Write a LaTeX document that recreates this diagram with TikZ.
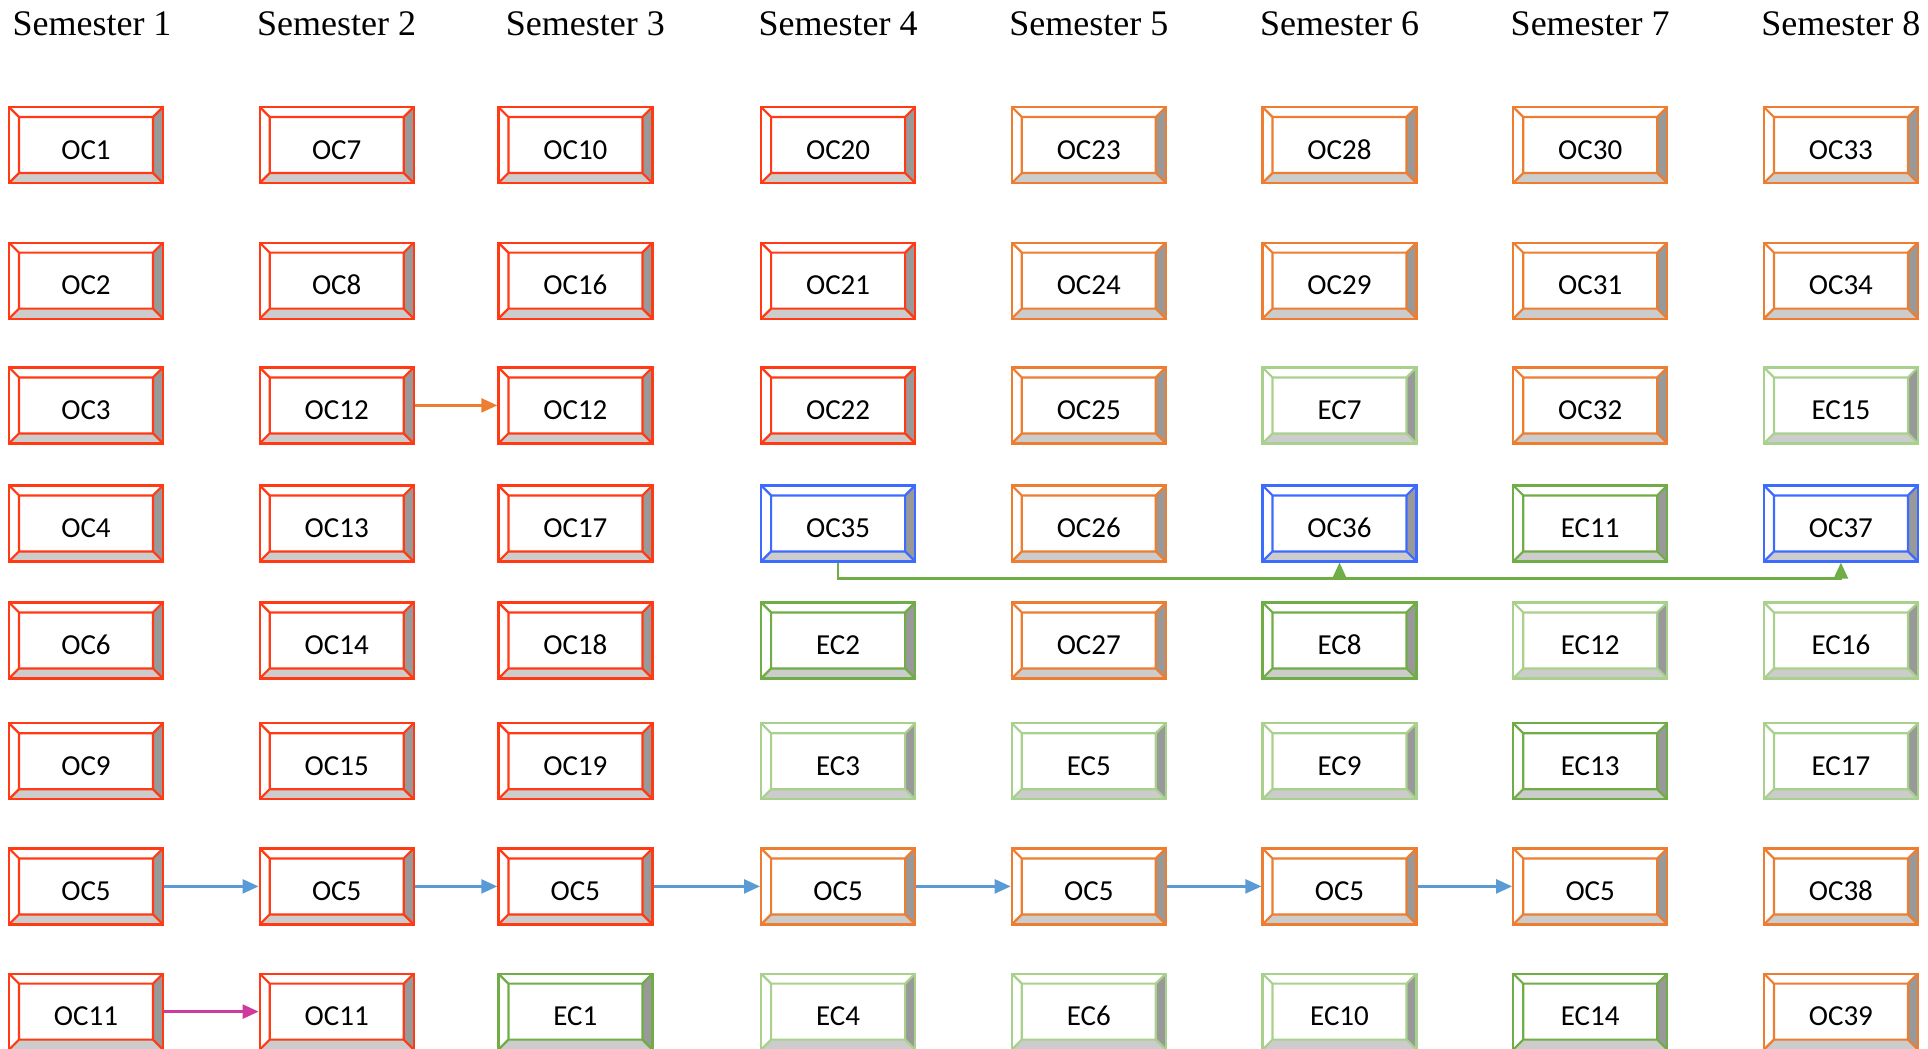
\documentclass[tikz,border=0pt]{standalone}
\usepackage{fontspec}
\setmainfont{Liberation Serif}
\newfontfamily\coursefont{Carlito}
\usetikzlibrary{arrows.meta}

\definecolor{ocred}{HTML}{FF3A14}
\definecolor{ocorange}{HTML}{ED7D31}
\definecolor{ocblue}{HTML}{3D6BFF}
\definecolor{ecgreen}{HTML}{70AD47}
\definecolor{eclight}{HTML}{A9D18E}
\definecolor{arrowblue}{HTML}{5B9BD5}
\definecolor{arrowpink}{HTML}{CF3A9E}

\begin{document}
\begin{tikzpicture}[x=0.5pt,y=-0.5pt,>={Triangle[length=8pt,width=7pt]},node distance=125.35pt,
                    course node/.style={rectangle,draw=#1,line width=1.1pt,minimum width=77pt,minimum height=38pt,
                      inner sep=0pt,text height=14.3pt,text depth=0pt,font=\coursefont\fontsize{14.5}{17}\selectfont,
                      path picture={
                        \path (path picture bounding box.north east) coordinate (ne)
                              (path picture bounding box.south east) coordinate (se)
                              (path picture bounding box.south west) coordinate (sw)
                              (path picture bounding box.north west) coordinate (nw);
                        \fill[black!40] (ne) -- (se) -- ([shift={(-5pt,5pt)}]se) -- ([shift={(-5pt,-5pt)}]ne) -- cycle;
                        \fill[black!20] (sw) -- (se) -- ([shift={(-5pt,5pt)}]se) -- ([shift={(5pt,5pt)}]sw) -- cycle;
                        \draw[#1,line width=1.1pt] ([shift={(5pt,5pt)}]sw) rectangle ([shift={(-5pt,-5pt)}]ne)
                          (nw) -- ([shift={(5pt,-5pt)}]nw) (ne) -- ([shift={(-5pt,-5pt)}]ne)
                          (se) -- ([shift={(-5pt,5pt)}]se) (sw) -- ([shift={(5pt,5pt)}]sw);
                      }},
                    red node/.style={course node=ocred},
                    orange node/.style={course node=ocorange},
                    blue node/.style={course node=ocblue},
                    green node/.style={course node=ecgreen},
                    light node/.style={course node=eclight},
                    to third/.style={node distance=119.35pt},
                    to fourth/.style={node distance=131.35pt},
                    semester/.style={font=\fontsize{18}{22}\selectfont,inner sep=0pt},
                    flow/.style={->,line width=1.2pt}]
  \clip (0,0) rectangle (1928,1049);

  \node[red node] (oc1) at (86,145) {OC1};
  \node[red node] (oc7) [right of=oc1] {OC7};
  \node[red node] (oc10) [right of=oc7,to third] {OC10};
  \node[red node] (oc20) [right of=oc10,to fourth] {OC20};
  \node[orange node] (oc23) [right of=oc20] {OC23};
  \node[orange node] (oc28) [right of=oc23] {OC28};
  \node[orange node] (oc30) [right of=oc28] {OC30};
  \node[orange node] (oc33) [right of=oc30] {OC33};

  \node[red node] (oc2) [below of=oc1,node distance=67.8pt] {OC2};
  \node[red node] (oc8) [right of=oc2] {OC8};
  \node[red node] (oc16) [right of=oc8,to third] {OC16};
  \node[red node] (oc21) [right of=oc16,to fourth] {OC21};
  \node[orange node] (oc24) [right of=oc21] {OC24};
  \node[orange node] (oc29) [right of=oc24] {OC29};
  \node[orange node] (oc31) [right of=oc29] {OC31};
  \node[orange node] (oc34) [right of=oc31] {OC34};

  \node[red node] (oc3) [below of=oc2,node distance=62.4pt] {OC3};
  \node[red node] (oc12a) [right of=oc3] {OC12};
  \node[red node] (oc12b) [right of=oc12a,to third] {OC12};
  \node[red node] (oc22) [right of=oc12b,to fourth] {OC22};
  \node[orange node] (oc25) [right of=oc22] {OC25};
  \node[light node] (ec7) [right of=oc25] {EC7};
  \node[orange node] (oc32) [right of=ec7] {OC32};
  \node[light node] (ec15) [right of=oc32] {EC15};

  \node[red node] (oc4) [below of=oc3,node distance=59pt] {OC4};
  \node[red node] (oc13) [right of=oc4] {OC13};
  \node[red node] (oc17) [right of=oc13,to third] {OC17};
  \node[blue node] (oc35) [right of=oc17,to fourth] {OC35};
  \node[orange node] (oc26) [right of=oc35] {OC26};
  \node[blue node] (oc36) [right of=oc26] {OC36};
  \node[green node] (ec11) [right of=oc36] {EC11};
  \node[blue node] (oc37) [right of=ec11] {OC37};

  \node[red node] (oc6) [below of=oc4,node distance=58.5pt] {OC6};
  \node[red node] (oc14) [right of=oc6] {OC14};
  \node[red node] (oc18) [right of=oc14,to third] {OC18};
  \node[green node] (ec2) [right of=oc18,to fourth] {EC2};
  \node[orange node] (oc27) [right of=ec2] {OC27};
  \node[green node] (ec8) [right of=oc27] {EC8};
  \node[light node] (ec12) [right of=ec8] {EC12};
  \node[light node] (ec16) [right of=ec12] {EC16};

  \node[red node] (oc9) [below of=oc6,node distance=60.4pt] {OC9};
  \node[red node] (oc15) [right of=oc9] {OC15};
  \node[red node] (oc19) [right of=oc15,to third] {OC19};
  \node[light node] (ec3) [right of=oc19,to fourth] {EC3};
  \node[light node] (ec5) [right of=ec3] {EC5};
  \node[light node] (ec9) [right of=ec5] {EC9};
  \node[green node] (ec13) [right of=ec9] {EC13};
  \node[light node] (ec17) [right of=ec13] {EC17};

  \node[red node] (oc5a) [below of=oc9,node distance=62.6pt] {OC5};
  \node[red node] (oc5b) [right of=oc5a] {OC5};
  \node[red node] (oc5c) [right of=oc5b,to third] {OC5};
  \node[orange node] (oc5d) [right of=oc5c,to fourth] {OC5};
  \node[orange node] (oc5e) [right of=oc5d] {OC5};
  \node[orange node] (oc5f) [right of=oc5e] {OC5};
  \node[orange node] (oc5g) [right of=oc5f] {OC5};
  \node[orange node] (oc38) [right of=oc5g] {OC38};

  \node[red node] (oc11a) [below of=oc5a,node distance=62.6pt] {OC11};
  \node[red node] (oc11b) [right of=oc11a] {OC11};
  \node[green node] (ec1) [right of=oc11b,to third] {EC1};
  \node[light node] (ec4) [right of=ec1,to fourth] {EC4};
  \node[light node] (ec6) [right of=ec4] {EC6};
  \node[light node] (ec10) [right of=ec6] {EC10};
  \node[green node] (ec14) [right of=ec10] {EC14};
  \node[orange node] (oc39) [right of=ec14] {OC39};

  % semester headings
  \node[semester] (sem1) [above of=oc1,node distance=60.4pt,xshift=3pt] {Semester 1};
  \node[semester] (sem2) [above of=oc7,node distance=60.4pt] {Semester 2};
  \node[semester] (sem3) [above of=oc10,node distance=60.4pt,xshift=5pt] {Semester 3};
  \node[semester] (sem4) [above of=oc20,node distance=60.4pt] {Semester 4};
  \node[semester] (sem5) [above of=oc23,node distance=60.4pt] {Semester 5};
  \node[semester] (sem6) [above of=oc28,node distance=60.4pt] {Semester 6};
  \node[semester] (sem7) [above of=oc30,node distance=60.4pt] {Semester 7};
  \node[semester] (sem8) [above of=oc33,node distance=60.4pt] {Semester 8};

  \path[flow,arrowblue]
    (oc5a) edge (oc5b)
    (oc5b) edge (oc5c)
    (oc5c) edge (oc5d)
    (oc5d) edge (oc5e)
    (oc5e) edge (oc5f)
    (oc5f) edge (oc5g);
  \draw[flow,ocorange] (oc12a) -- (oc12b);
  \draw[flow,arrowpink] (oc11a) -- (oc11b);

  \coordinate (bus) at ([yshift=-8pt]oc35.south);
  \draw[flow,ecgreen] (oc35.south) -- (bus) -| (oc37.south);
  \draw[flow,ecgreen] (bus -| oc36.south) -- (oc36.south);
\end{tikzpicture}
\end{document}
